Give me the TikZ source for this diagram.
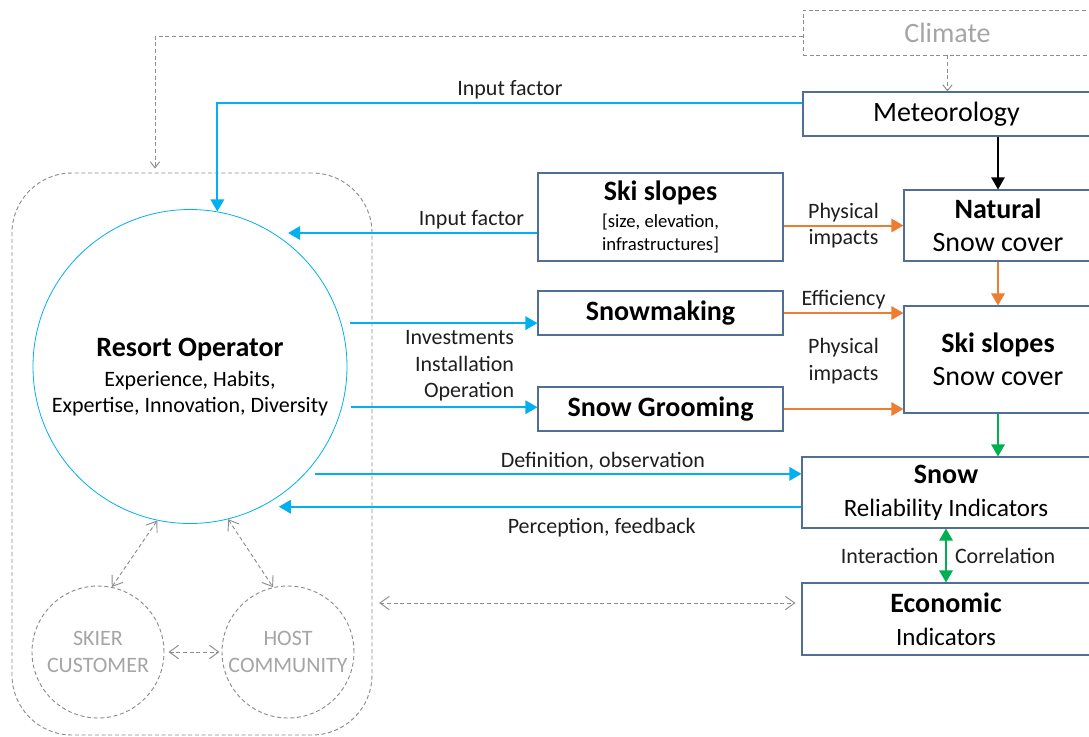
\documentclass[tikz,border=0pt]{standalone}
\usepackage{fontspec}
\setmainfont{Carlito}
\usetikzlibrary{arrows.meta}
\definecolor{cyanline}{RGB}{0,176,240}
\definecolor{orangeline}{RGB}{237,125,49}
\definecolor{greenline}{RGB}{0,176,80}
\definecolor{boxline}{RGB}{80,110,150}
\definecolor{greyline}{RGB}{140,140,140}
\definecolor{greytext}{RGB}{165,165,165}
\definecolor{labeltext}{RGB}{30,30,30}
\newcommand{\hd}[1]{{\fontsize{21}{25}\selectfont\bfseries #1}}
\newcommand{\md}[1]{{\fontsize{18.75}{22}\selectfont #1}}
\newcommand{\sm}[1]{{\fontsize{14}{17}\selectfont #1}}

\tikzset{
  filltip/.tip={Triangle[length=9pt,width=10pt]},
  opentip/.tip={Straight Barb[length=7pt,width=10pt]},
  smalltip/.tip={Straight Barb[length=4.5pt,width=7pt]},
  box/.style={draw=boxline, line width=0.8pt, align=center, inner sep=0pt,
    font=\fontsize{21}{25}\selectfont},
  lbl/.style={font=\fontsize{16.5}{20}\selectfont, text=labeltext, align=center, inner sep=2pt},
  flow/.style={line width=1.5pt, -filltip},
  greydash/.style={draw=greyline, line width=0.7pt, dash pattern=on 3pt off 2pt},
  ghost/.style={circle, greydash, text=greytext, inner sep=0pt, minimum size=99pt,
    align=center, font=\fontsize{16.5}{20}\selectfont}
}

\begin{document}
\begin{tikzpicture}[x=0.75pt,y=-0.75pt]
\useasboundingbox (0,0) rectangle (1089,736);

\node[greydash, rounded corners=45pt, minimum width=270pt, minimum height=421.5pt] (stake) at (192,454) {};
\node[circle, draw=cyanline, line width=0.6pt, inner sep=0pt, minimum size=235.5pt, align=center,
  font=\fontsize{16.5}{19.5}\selectfont] (resort) at (190,366.5)
  {\hd{\rule{0pt}{30pt}Resort Operator}\\[3pt] Experience, Habits,\\ Expertise, Innovation, Diversity};
\node[ghost] (skier) at (98,652) {SKIER\\CUSTOMER};
\node[ghost] (host) at (288,652) {HOST\\COMMUNITY};

\node[box, greydash, text=greytext, minimum width=216.75pt, minimum height=33.75pt] (climate) at (947.5,32.5) {Climate};
\node[box, minimum width=215.25pt, minimum height=33pt] (meteo) at (946.5,114) {Meteorology};
\node[box, minimum width=183.75pt, minimum height=66pt, font=\fontsize{14}{17}\selectfont] (skislopes) at (660.5,217)
  {\hd{Ski slopes}\\[3pt] \sm{[size, elevation,}\\ \sm{infrastructures]}};
\node[box, minimum width=141pt, minimum height=53.25pt] (natural) at (998,225.5) {\hd{Natural}\\ Snow cover};
\node[box, minimum width=183.75pt, minimum height=33pt] (snowmaking) at (660.5,313) {\hd{Snowmaking}};
\node[box, minimum width=183.75pt, minimum height=33pt] (grooming) at (660.5,409) {\hd{Snow Grooming}};
\node[box, minimum width=141pt, minimum height=80.25pt] (slopecover) at (998,359.5) {\hd{Ski slopes}\\ Snow cover};
\node[box, minimum width=216pt, minimum height=53.25pt] (reliab) at (946,492.5) {\hd{Snow}\\ \md{Reliability Indicators}};
\node[box, minimum width=216pt, minimum height=54pt] (economic) at (946,619) {\hd{Economic}\\ \md{Indicators}};

\node[lbl, anchor=east, align=right] (invest) at (517,366) {Investments\\Installation\\Operation};
\node[lbl] (impacts) at (843.5,361) {Physical\\impacts};

\draw[greydash, -smalltip] (climate.south) -- (climate.south |- meteo.north);
\draw[greydash, -smalltip, shorten >=3pt] ([yshift=-3pt]climate.west) -| ([xshift=-27.75pt]stake.north);

\draw[flow, cyanline] ([yshift=8.25pt]meteo.west) -| node[lbl, pos=0.25, above] {Input factor} (resort.80);
\draw[flow, cyanline, shorten >=11pt] (resort.58 -| skislopes.west) -- node[lbl, pos=0.25, above] {Input factor} (resort.58);
\draw[flow, cyanline, shorten <=6.5pt] (resort.16) -- (resort.16 -| snowmaking.west);
\draw[flow, cyanline, shorten <=6.5pt] (resort.-15) -- (resort.-15 -| grooming.west);
\draw[flow, cyanline, shorten <=7.5pt] (resort.-43) -- node[lbl, pos=0.6, above] {Definition, observation} (resort.-43 -| reliab.west);
\draw[flow, cyanline, shorten >=13pt] (resort.-63 -| reliab.west) -- node[lbl, pos=0.37, below=6pt] {Perception, feedback} (resort.-63);

\draw[flow, black, line width=1.1pt] (natural.north |- meteo.south) -- (natural.north);
\draw[flow, orangeline] (skislopes.east |- natural.west) -- node[lbl] {Physical\\impacts} (natural.west);
\draw[flow, orangeline] (snowmaking.east) -- node[lbl, above] {Efficiency} (snowmaking.east -| slopecover.west);
\draw[flow, orangeline] (grooming.east) -- (grooming.east -| slopecover.west);
\draw[flow, orangeline] (natural.south) -- (slopecover.north);
\draw[flow, greenline] (slopecover.south) -- (slopecover.south |- reliab.north);
\draw[flow, greenline, filltip-filltip] (reliab.south) -- node[lbl, left=3pt] {Interaction} node[lbl, right=4pt] {Correlation} (economic.north);

\coordinate (eco) at ([yshift=12pt]economic.west);
\draw[greydash, opentip-opentip, shorten <=5pt, shorten >=4.5pt] (eco -| stake.east) -- (eco);
\draw[greydash, opentip-opentip] (skier.78) -- (resort.-102);
\draw[greydash, opentip-opentip] (resort.-76) -- (host.103);
\draw[greydash, opentip-opentip, shorten <=3pt, shorten >=1.5pt] (skier.east) -- (host.west);
\end{tikzpicture}
\end{document}
